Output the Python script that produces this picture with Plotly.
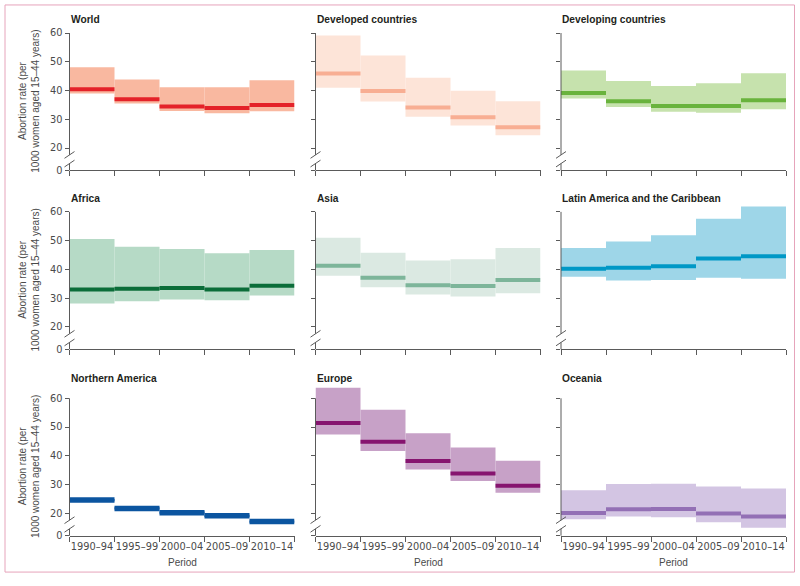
import plotly.graph_objects as go

# ---------------- data ----------------
periods = ["1990–94", "1995–99", "2000–04", "2005–09", "2010–14"]

panel_titles = ["World", "Developed countries", "Developing countries",
                "Africa", "Asia", "Latin America and the Caribbean",
                "Northern America", "Europe", "Oceania"]

world_mid = [40.4, 37.0, 34.4, 33.9, 35.0]
world_lo = [39.0, 35.5, 32.9, 32.1, 32.8]
world_hi = [48.1, 43.8, 41.1, 41.1, 43.6]

developed_mid = [45.9, 39.8, 34.1, 30.7, 27.2]
developed_lo = [41.0, 36.2, 30.9, 27.8, 24.4]
developed_hi = [59.1, 52.2, 44.4, 39.9, 36.3]

developing_mid = [39.1, 36.3, 34.6, 34.6, 36.6]
developing_lo = [37.2, 34.3, 32.6, 32.3, 33.5]
developing_hi = [47.0, 43.3, 41.6, 42.5, 46.0]

africa_mid = [33.0, 33.3, 33.5, 33.0, 34.3]
africa_lo = [28.1, 28.9, 29.5, 29.3, 30.9]
africa_hi = [50.6, 47.9, 47.1, 45.6, 46.7]

asia_mid = [41.3, 37.1, 34.5, 34.2, 36.3]
asia_lo = [37.8, 33.8, 31.3, 30.6, 31.7]
asia_hi = [51.0, 45.8, 43.1, 43.5, 47.4]

latam_mid = [40.2, 40.6, 41.1, 43.8, 44.6]
latam_lo = [37.4, 36.1, 36.3, 37.1, 36.7]
latam_hi = [47.4, 49.7, 51.9, 57.6, 61.9]

namerica_mid = [24.6, 21.7, 20.2, 19.1, 17.1]
namerica_lo = [24.2, 21.3, 19.8, 18.7, 16.7]
namerica_hi = [25.0, 22.1, 20.6, 19.5, 17.5]

europe_mid = [51.4, 44.9, 38.2, 33.8, 29.6]
europe_lo = [47.4, 41.7, 35.2, 31.2, 27.1]
europe_hi = [63.7, 56.0, 47.8, 42.9, 38.3]

oceania_mid = [20.1, 21.4, 21.5, 19.9, 18.9]
oceania_lo = [17.9, 18.9, 18.6, 16.9, 15.0]
oceania_hi = [28.0, 30.2, 30.3, 29.3, 28.6]

y_tick_values = [20, 30, 40, 50, 60]
y_tick_labels = ["20", "30", "40", "50", "60"]
zero_label = "0"

# ---------------- styles ----------------
panels = [
    (world_mid, world_lo, world_hi, "#f9b8a0", "#e42229"),
    (developed_mid, developed_lo, developed_hi, "#fde4d8", "#f8ae93"),
    (developing_mid, developing_lo, developing_hi, "#c6e2ad", "#69b33d"),
    (africa_mid, africa_lo, africa_hi, "#b6dac6", "#0b6d39"),
    (asia_mid, asia_lo, asia_hi, "#dbe9e2", "#7db59a"),
    (latam_mid, latam_lo, latam_hi, "#9ed6e8", "#0098c6"),
    (namerica_mid, namerica_lo, namerica_hi, "#0b55a0", "#0b55a0"),
    (europe_mid, europe_lo, europe_hi, "#c7a1c7", "#86146f"),
    (oceania_mid, oceania_lo, oceania_hi, "#d3c5e3", "#9370b5"),
]

W, H = 800, 586
col_x0 = [69.5, 315.5, 561.0]
col_w = 225.0
row_top = [21.7, 202.1, 390.1]     # pixel of y = Y_MAX
Y_MIN, Y_MAX = 12.2, 64.0
PX_PER_UNIT = 2.9
row_h = (Y_MAX - Y_MIN) * PX_PER_UNIT
title_y = [20.0, 200.5, 382.0]

AXIS_COL = "#5a5a5a"
TICK_FONT = dict(family="DejaVu Sans, Verdana, sans-serif", size=9.8, color="#4a4a4a")
TEXT_FONT = dict(family="Liberation Sans, Arial, sans-serif", size=10, color="#4a4a4a")
TITLE_FONT = dict(family="Liberation Sans, Arial, sans-serif", size=10.2, color="#231f20")


def px(x):
    return x / W


def py(y):
    return 1 - y / H


def ypix(row, v):
    return row_top[row] + (Y_MAX - v) * PX_PER_UNIT


fig = go.Figure()
layout = dict(
    width=W, height=H, margin=dict(l=0, r=0, t=0, b=0),
    paper_bgcolor="white", plot_bgcolor="white", showlegend=False,
    barmode="overlay", font=TICK_FONT,
)
shapes = []
annotations = []

for k, (mid, lo, hi, band_col, line_col) in enumerate(panels):
    r, c = divmod(k, 3)
    n = k + 1
    xa, ya = f"x{n}", f"y{n}"
    centers = [i + 0.5 for i in range(len(periods))]
    fig.add_trace(go.Bar(
        x=centers, y=[h - l for h, l in zip(hi, lo)], base=lo, width=1,
        marker=dict(color=band_col, line=dict(width=0)),
        xaxis=xa, yaxis=ya, hoverinfo="skip"))
    xs, ys = [], []
    for i, m in enumerate(mid):
        xs += [i, i + 1, None]
        ys += [m, m, None]
    fig.add_trace(go.Scatter(
        x=xs, y=ys, mode="lines",
        line=dict(color=line_col, width=5.5 if k == 6 else 4),
        xaxis=xa, yaxis=ya, hoverinfo="skip"))

    x0 = col_x0[c]
    top = row_top[r]
    bot = top + row_h
    layout[f"xaxis{n}"] = dict(
        domain=[px(x0), px(x0 + col_w)], anchor=ya, range=[0, 5],
        showline=True, linecolor=AXIS_COL, linewidth=1,
        showgrid=False, zeroline=False, fixedrange=True,
        tickvals=centers, ticktext=periods, ticks="outside", ticklen=2,
        tickcolor="rgba(0,0,0,0)", showticklabels=(r == 2),
        tickfont=TICK_FONT,
        minor=dict(tickvals=list(range(len(periods) + 1)), ticks="outside",
                   ticklen=5, tickcolor=AXIS_COL, tickwidth=1),
    )
    layout[f"yaxis{n}"] = dict(
        domain=[py(bot), py(top)], anchor=xa, range=[Y_MIN, Y_MAX],
        showline=False, showgrid=False, zeroline=False, fixedrange=True,
        tickvals=[Y_MIN] + y_tick_values, ticktext=[zero_label] + y_tick_labels,
        ticks="outside", ticklen=4, tickcolor=AXIS_COL, tickwidth=1,
        showticklabels=(c == 0), tickfont=TICK_FONT,
    )

    # broken y axis line
    line_style = dict(color=AXIS_COL, width=1)
    up_c, lo_c = 17.6, 14.6
    for (ya0, ya1) in [(60, up_c), (lo_c, Y_MIN)]:
        shapes.append(dict(type="line", xref="paper", yref="paper",
                           x0=px(x0), x1=px(x0), y0=py(ypix(r, ya0)), y1=py(ypix(r, ya1)),
                           line=line_style))
    for cv in (up_c, lo_c):
        yc = ypix(r, cv)
        shapes.append(dict(type="line", xref="paper", yref="paper",
                           x0=px(x0 - 5), x1=px(x0 + 5), y0=py(yc + 3.4), y1=py(yc - 3.4),
                           line=line_style))

    annotations.append(dict(text=f"<b>{panel_titles[k]}</b>", xref="paper", yref="paper",
                            x=px(x0 - 1), y=py(title_y[r]), xanchor="left", yanchor="middle",
                            showarrow=False, font=TITLE_FONT))
    if c == 0:
        yc = (ypix(r, 60) + ypix(r, Y_MIN)) / 2
        annotations.append(dict(text="Abortion rate (per<br>1000 women aged 15–44 years)",
                                xref="paper", yref="paper", x=px(29), y=py(yc),
                                xanchor="center", yanchor="middle", textangle=-90,
                                showarrow=False, align="center", font=TEXT_FONT))
    if r == 2:
        annotations.append(dict(text="Period", xref="paper", yref="paper",
                                x=px(x0 + col_w / 2), y=py(567), xanchor="center",
                                yanchor="middle", showarrow=False, font=TEXT_FONT))

# pink frame
shapes.append(dict(type="rect", xref="paper", yref="paper",
                   x0=px(5), x1=px(794.5), y0=py(577), y1=py(5),
                   line=dict(color="#e6a4bb", width=1), fillcolor="rgba(0,0,0,0)"))

layout["shapes"] = shapes
layout["annotations"] = annotations
fig.update_layout(**layout)
fig.write_html("out.html", config={"displayModeBar": False},
               post_script="document.body.style.margin='0px';")
